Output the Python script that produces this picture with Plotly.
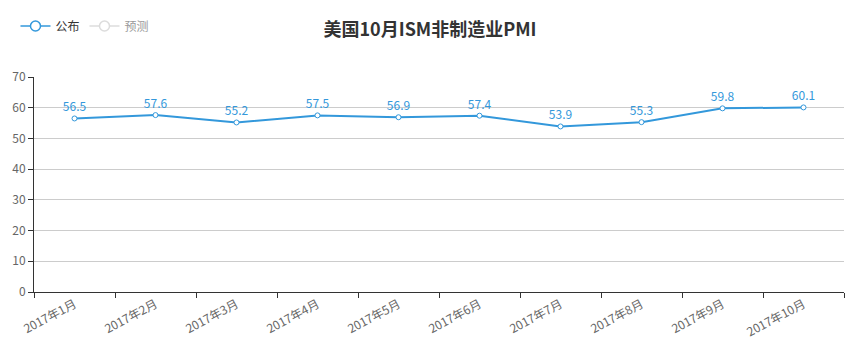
import plotly.graph_objects as go

categories = ["2017年1月", "2017年2月", "2017年3月", "2017年4月", "2017年5月",
              "2017年6月", "2017年7月", "2017年8月", "2017年9月", "2017年10月"]
published = [56.5, 57.6, 55.2, 57.5, 56.9, 57.4, 53.9, 55.3, 59.8, 60.1]
forecast = [None] * 10
y_ticks = [0, 10, 20, 30, 40, 50, 60, 70]

FONT = "Noto Sans CJK SC, Microsoft YaHei, sans-serif"
BLUE = "#3398DB"

fig = go.Figure()
fig.add_trace(go.Scatter(
    x=categories, y=published, name="公布", mode="lines+markers+text",
    legendgroup="pub", showlegend=False,
    line=dict(color=BLUE, width=2),
    marker=dict(symbol="circle", size=5, color="white", line=dict(color=BLUE, width=1)),
    text=[f"{v:.1f}" for v in published], textposition="top center",
    textfont=dict(color=BLUE, size=12, family=FONT),
    cliponaxis=False,
))
# legend entry for the published series (larger symbol, like the original)
fig.add_trace(go.Scatter(
    x=[None], y=[None], name="公布", mode="lines+markers", legendgroup="pub",
    line=dict(color=BLUE, width=1.5),
    marker=dict(symbol="circle", size=10, color="white", line=dict(color=BLUE, width=1.5)),
))
fig.add_trace(go.Scatter(
    x=categories, y=forecast, name="预测", mode="lines+markers",
    line=dict(color="#bbbbbb", width=1.5),
    marker=dict(symbol="circle", size=10, color="white", line=dict(color="#bbbbbb", width=1.5)),
    visible="legendonly",
))

fig.update_layout(
    width=860, height=354,
    margin=dict(l=34, r=16, t=77, b=62),
    paper_bgcolor="white", plot_bgcolor="white",
    font=dict(family=FONT, size=12, color="#666"),
    title=dict(text="<b>美国10月ISM非制造业PMI</b>", x=0.5, xanchor="center",
               y=1 - 30 / 354, yanchor="middle",
               font=dict(size=18, color="#333", family=FONT)),
    legend=dict(orientation="h", xref="container", x=0.018, xanchor="left",
                y=1 - 26 / 354, yanchor="middle",
                yref="container", font=dict(size=12, color="#333"),
                itemwidth=30, tracegroupgap=0),
    showlegend=True,
)
fig.update_xaxes(
    type="category", tickson="boundaries", ticks="outside", ticklen=5,
    tickcolor="#333", showline=True, linecolor="#333", linewidth=1,
    showgrid=False, tickangle=-28, tickfont=dict(size=12, color="#666"),
    range=[-0.5, 9.5],
)
fig.update_yaxes(
    range=[0, 70], tickvals=y_ticks, ticks="outside", ticklen=5, tickcolor="#333",
    showline=True, linecolor="#333", linewidth=1, showgrid=True, gridcolor="#ccc",
    zeroline=False, tickfont=dict(size=12, color="#666"),
)

fig.write_html("out.html")
